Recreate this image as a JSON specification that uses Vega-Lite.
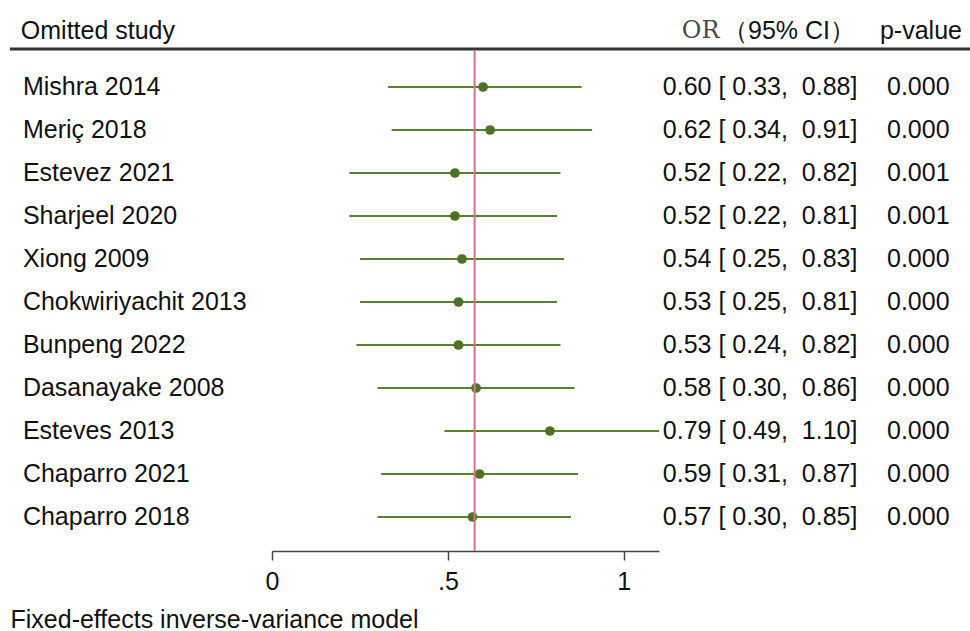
{
  "$schema": "https://vega.github.io/schema/vega-lite/v6.json",
  "width": 970,
  "height": 551,
  "autosize": {"type": "none"},
  "padding": {"top": 0, "left": 0, "right": 0, "bottom": 80},
  "background": "white",
  "config": {
    "view": {"stroke": null},
    "font": "Liberation Sans",
    "text": {"font": "Liberation Sans", "fontSize": 25, "color": "#111111"}
  },
  "datasets": {
    "studies": [
      {"study": "Mishra 2014", "or": 0.60, "lo": 0.33, "hi": 0.88, "ci": "0.60 [ 0.33,\u00a0 0.88]", "p": "0.000"},
      {"study": "Meriç 2018", "or": 0.62, "lo": 0.34, "hi": 0.91, "ci": "0.62 [ 0.34,\u00a0 0.91]", "p": "0.000"},
      {"study": "Estevez 2021", "or": 0.52, "lo": 0.22, "hi": 0.82, "ci": "0.52 [ 0.22,\u00a0 0.82]", "p": "0.001"},
      {"study": "Sharjeel 2020", "or": 0.52, "lo": 0.22, "hi": 0.81, "ci": "0.52 [ 0.22,\u00a0 0.81]", "p": "0.001"},
      {"study": "Xiong 2009", "or": 0.54, "lo": 0.25, "hi": 0.83, "ci": "0.54 [ 0.25,\u00a0 0.83]", "p": "0.000"},
      {"study": "Chokwiriyachit 2013", "or": 0.53, "lo": 0.25, "hi": 0.81, "ci": "0.53 [ 0.25,\u00a0 0.81]", "p": "0.000"},
      {"study": "Bunpeng 2022", "or": 0.53, "lo": 0.24, "hi": 0.82, "ci": "0.53 [ 0.24,\u00a0 0.82]", "p": "0.000"},
      {"study": "Dasanayake 2008", "or": 0.58, "lo": 0.30, "hi": 0.86, "ci": "0.58 [ 0.30,\u00a0 0.86]", "p": "0.000"},
      {"study": "Esteves 2013", "or": 0.79, "lo": 0.49, "hi": 1.10, "ci": "0.79 [ 0.49,\u00a0 1.10]", "p": "0.000"},
      {"study": "Chaparro 2021", "or": 0.59, "lo": 0.31, "hi": 0.87, "ci": "0.59 [ 0.31,\u00a0 0.87]", "p": "0.000"},
      {"study": "Chaparro 2018", "or": 0.57, "lo": 0.30, "hi": 0.85, "ci": "0.57 [ 0.30,\u00a0 0.85]", "p": "0.000"}
    ]
  },
  "data": {"name": "studies"},
  "encoding": {
    "y": {
      "field": "study",
      "type": "nominal",
      "sort": null,
      "axis": null,
      "scale": {
        "type": "point",
        "padding": 0,
        "domain": ["Mishra 2014", "Meriç 2018", "Estevez 2021", "Sharjeel 2020", "Xiong 2009", "Chokwiriyachit 2013", "Bunpeng 2022", "Dasanayake 2008", "Esteves 2013", "Chaparro 2021", "Chaparro 2018"],
        "range": [87, 517]
      }
    }
  },
  "layer": [
    {
      "mark": {"type": "rule", "color": "#5b7e2f", "strokeWidth": 2},
      "encoding": {
        "x": {
          "field": "lo",
          "type": "quantitative",
          "scale": {"domain": [0, 1.1], "range": [272, 659], "nice": false, "zero": false},
          "axis": {
            "values": [0, 0.5, 1],
            "labelExpr": "datum.value == 0 ? '0' : (datum.value == 1 ? '1' : '.5')",
            "grid": false,
            "domainColor": "#444444",
            "domainWidth": 1.5,
            "tickColor": "#444444",
            "tickWidth": 1.5,
            "tickSize": 9,
            "labelFont": "Liberation Sans",
            "labelFontSize": 25,
            "labelColor": "#111111",
            "labelPadding": 9,
            "labelFlush": false,
            "title": "Fixed-effects inverse-variance model",
            "titleFont": "Liberation Sans",
            "titleFontSize": 25,
            "titleFontWeight": "normal",
            "titleColor": "#111111",
            "titleAnchor": "start",
            "titleAlign": "left",
            "titleBaseline": "alphabetic",
            "titleX": 10,
            "titleY": 76
          }
        },
        "x2": {"field": "hi"}
      }
    },
    {
      "mark": {"type": "point", "filled": true, "size": 95, "color": "#4c7225", "opacity": 1},
      "encoding": {"x": {"field": "or", "type": "quantitative"}}
    },
    {
      "mark": {"type": "text", "align": "left", "baseline": "middle"},
      "encoding": {"x": {"datum": -0.708}, "text": {"field": "study"}}
    },
    {
      "mark": {"type": "text", "align": "left", "baseline": "middle"},
      "encoding": {"x": {"datum": 1.111}, "text": {"field": "ci"}}
    },
    {
      "mark": {"type": "text", "align": "left", "baseline": "middle"},
      "encoding": {"x": {"datum": 1.748}, "text": {"field": "p"}}
    },
    {
      "data": {"values": [{"label": "Omitted study"}]},
      "mark": {"type": "text", "align": "left", "baseline": "middle", "yOffset": -56},
      "encoding": {"x": {"datum": -0.714}, "y": {"datum": "Mishra 2014"}, "text": {"field": "label"}}
    },
    {
      "data": {"values": [{"label": "OR"}]},
      "mark": {"type": "text", "align": "left", "baseline": "middle", "yOffset": -56, "font": "DejaVu Serif", "fontSize": 24, "color": "#4a4a4a"},
      "encoding": {"x": {"datum": 1.165}, "y": {"datum": "Mishra 2014"}, "text": {"field": "label"}}
    },
    {
      "data": {"values": [{"label": "（95% CI）"}]},
      "mark": {"type": "text", "align": "left", "baseline": "middle", "yOffset": -56},
      "encoding": {"x": {"datum": 1.282}, "y": {"datum": "Mishra 2014"}, "text": {"field": "label"}}
    },
    {
      "data": {"values": [{"label": "p-value"}]},
      "mark": {"type": "text", "align": "left", "baseline": "middle", "yOffset": -56},
      "encoding": {"x": {"datum": 1.728}, "y": {"datum": "Mishra 2014"}, "text": {"field": "label"}}
    },
    {
      "data": {"values": [{}]},
      "mark": {"type": "rule", "color": "#333333", "strokeWidth": 3, "yOffset": -38},
      "encoding": {"x": {"datum": -0.745}, "x2": {"datum": 1.985}, "y": {"datum": "Mishra 2014"}}
    },
    {
      "data": {"values": [{}]},
      "mark": {"type": "rule", "color": "#dc6f8d", "strokeWidth": 2, "yOffset": -36, "y2Offset": 34},
      "encoding": {"x": {"datum": 0.576}, "y": {"datum": "Mishra 2014"}, "y2": {"datum": "Chaparro 2018"}}
    }
  ]
}
